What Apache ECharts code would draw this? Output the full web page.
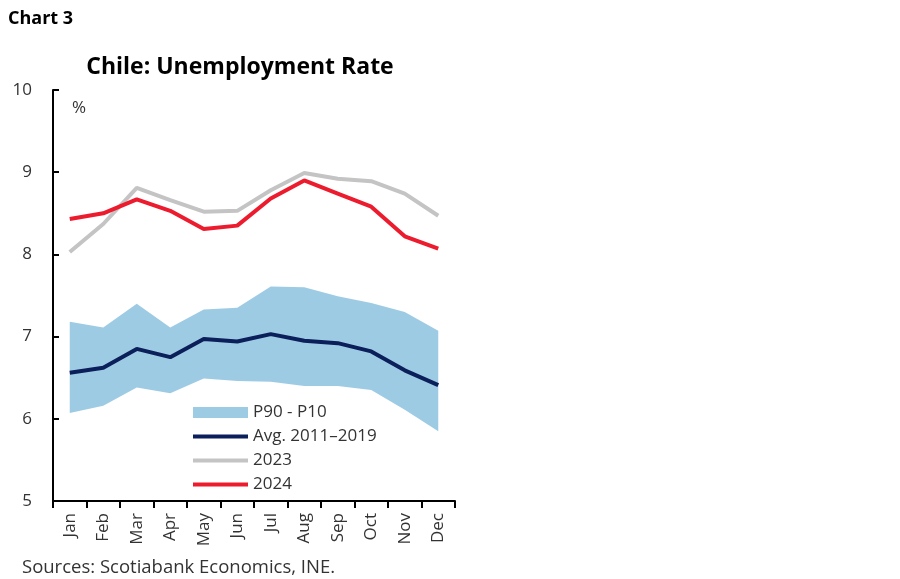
<!DOCTYPE html>
<html>
<head>
<meta charset="utf-8">
<script src="https://cdn.jsdelivr.net/npm/echarts@6/dist/echarts.min.js"></script>
<style>
html,body{margin:0;padding:0;background:#fff;}
#c{width:900px;height:579px;}
</style>
</head>
<body>
<div id="c"></div>
<script>
const months = ['Jan','Feb','Mar','Apr','May','Jun','Jul','Aug','Sep','Oct','Nov','Dec'];
const p90 = [7.18, 7.11, 7.40, 7.11, 7.33, 7.35, 7.61, 7.60, 7.49, 7.41, 7.30, 7.07];
const p10 = [6.07, 6.16, 6.38, 6.31, 6.49, 6.46, 6.45, 6.40, 6.40, 6.35, 6.11, 5.85];
const avg = [6.56, 6.62, 6.85, 6.75, 6.97, 6.94, 7.03, 6.95, 6.92, 6.82, 6.59, 6.41];
const y2023 = [8.03, 8.37, 8.81, 8.66, 8.52, 8.53, 8.78, 8.99, 8.92, 8.89, 8.74, 8.47];
const y2024 = [8.43, 8.50, 8.67, 8.53, 8.31, 8.35, 8.68, 8.90, 8.74, 8.58, 8.22, 8.07];
const yTicks = [5, 6, 7, 8, 9, 10];

const bandDiff = p90.map((v, i) => +(v - p10[i]).toFixed(2));
const FONT = 'Open Sans';
const LINE_ICON = 'path://M0,0H0.01V0.01H0Z M0,3.6H55V7.4H0Z M54.99,10.99H55V11H54.99Z';

const chart = echarts.init(document.getElementById('c'));
chart.setOption({
  animation: false,
  textStyle: { fontFamily: FONT },
  title: [
    { text: 'Chart 3', left: 3, top: 5, textStyle: { fontFamily: FONT, fontSize: 18, fontWeight: 'bold', color: '#000' } },
    { text: 'Chile: Unemployment Rate', left: 235, textAlign: 'center', top: 51, textStyle: { fontFamily: FONT, fontSize: 23, fontWeight: 'bold', color: '#000' } },
    { text: '%', left: 67, top: 95, textStyle: { fontFamily: FONT, fontSize: 17, fontWeight: 'normal', color: '#333' } },
    { text: 'Sources: Scotiabank Economics, INE.', left: 17, top: 553, textStyle: { fontFamily: FONT, fontSize: 18.5, fontWeight: 'normal', color: '#333' } }
  ],
  grid: { left: 53, right: 445, top: 90, bottom: 78, containLabel: false },
  legend: {
    orient: 'vertical',
    left: 188,
    top: 398,
    itemWidth: 55,
    itemHeight: 11,
    itemGap: 5,
    textStyle: { fontFamily: FONT, fontSize: 17, color: '#333', lineHeight: 19 },
    data: [
      { name: 'P90 - P10', icon: 'rect' },
      { name: 'Avg. 2011–2019', icon: LINE_ICON },
      { name: '2023', icon: LINE_ICON },
      { name: '2024', icon: LINE_ICON }
    ]
  },
  xAxis: {
    type: 'category',
    data: months,
    boundaryGap: true,
    axisLine: { lineStyle: { color: '#000', width: 2 } },
    axisTick: { show: true, inside: false, length: 7, lineStyle: { color: '#000', width: 2 } },
    axisLabel: { rotate: 90, margin: 12, fontFamily: FONT, fontSize: 17, color: '#333', interval: 0 },
    splitLine: { show: false }
  },
  yAxis: {
    type: 'value',
    min: yTicks[0],
    max: yTicks[yTicks.length - 1],
    interval: 1,
    axisLine: { show: true, lineStyle: { color: '#000', width: 2 } },
    axisTick: { show: true, inside: true, length: 6, lineStyle: { color: '#000', width: 2 } },
    axisLabel: { margin: 21, fontFamily: FONT, fontSize: 17, color: '#333' },
    splitLine: { show: false }
  },
  series: [
    {
      name: 'p10base', type: 'line', stack: 'band', data: p10,
      symbol: 'none', lineStyle: { opacity: 0 }, silent: true
    },
    {
      name: 'P90 - P10', type: 'line', stack: 'band', data: bandDiff,
      symbol: 'none', lineStyle: { opacity: 0 }, itemStyle: { color: '#9ecbe4' },
      areaStyle: { color: '#9ecbe4', opacity: 1 }, silent: true
    },
    {
      name: 'Avg. 2011–2019', type: 'line', data: avg, symbol: 'none',
      lineStyle: { color: '#0b1f5a', width: 4 }, itemStyle: { color: '#0b1f5a' }
    },
    {
      name: '2023', type: 'line', data: y2023, symbol: 'none',
      lineStyle: { color: '#c4c4c4', width: 4 }, itemStyle: { color: '#c4c4c4' }
    },
    {
      name: '2024', type: 'line', data: y2024, symbol: 'none',
      lineStyle: { color: '#ec1c2e', width: 4 }, itemStyle: { color: '#ec1c2e' }
    }
  ]
});
</script>
</body>
</html>
